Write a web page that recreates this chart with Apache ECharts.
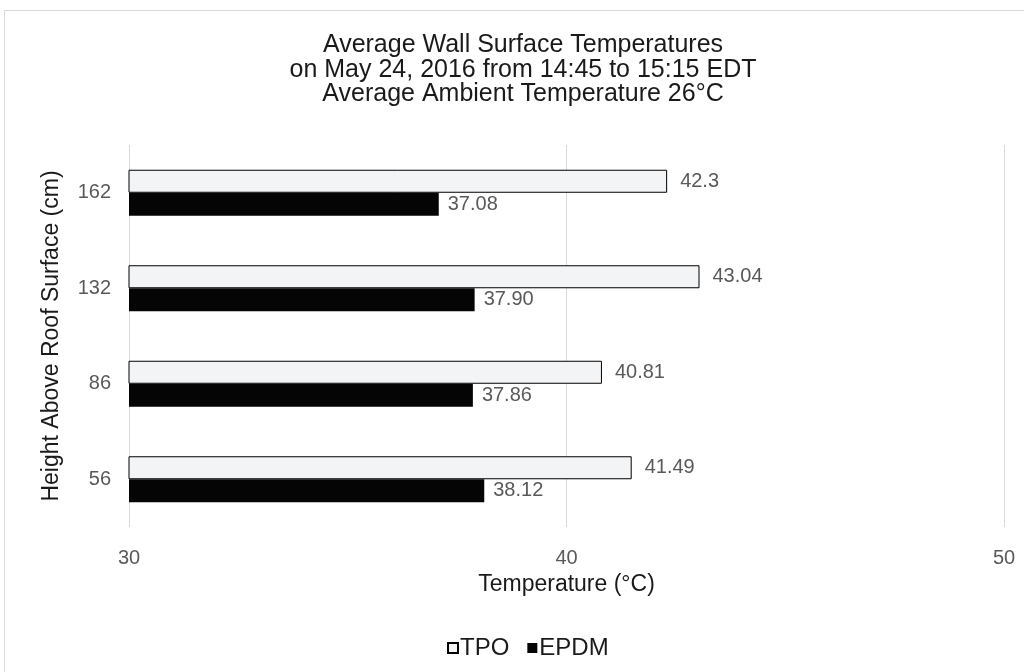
<!DOCTYPE html>
<html><head><meta charset="utf-8">
<script src="https://cdn.jsdelivr.net/npm/echarts@6/dist/echarts.min.js"></script>
<style>html,body{margin:0;padding:0;background:#fff}#c{width:1024px;height:672px}</style>
</head><body><div id="c"></div>
<script>
const categories = ['56', '86', '132', '162'];
const tpoValues = [41.49, 40.81, 43.04, 42.3];
const epdmValues = [38.12, 37.86, 37.90, 37.08];
const tpoLabels = ['41.49', '40.81', '43.04', '42.3'];
const epdmLabels = ['38.12', '37.86', '37.90', '37.08'];
const xTicks = [30, 40, 50];

const font = 'Liberation Sans, Arial, sans-serif';
const chart = echarts.init(document.getElementById('c'));
chart.setOption({
  animation: false,
  textStyle: { fontFamily: font },
  graphic: [{ type: 'rect', shape: { x: 4.5, y: 10.5, width: 1030, height: 680 }, style: { fill: 'none', stroke: '#d9d9d9', lineWidth: 1 }, silent: true }],
  title: {
    text: 'Average Wall Surface Temperatures\non May 24, 2016 from 14:45 to 15:15 EDT\nAverage Ambient Temperature 26°C',
    left: 518, top: 28, textAlign: 'center',
    textStyle: { fontFamily: font, fontSize: 25, fontWeight: 'normal', color: '#1a1a1a', lineHeight: 24.5 }
  },
  legend: {
    data: ['TPO', 'EPDM'], top: 631, left: 442, itemWidth: 10, itemHeight: 10, itemGap: 18,
    icon: 'rect',
    textStyle: { fontFamily: font, fontSize: 24, color: '#1a1a1a', padding: [0, 0, 0, -3] }
  },
  grid: { left: 129, right: 20, top: 145, bottom: 145, containLabel: false },
  xAxis: {
    type: 'value', min: xTicks[0], max: xTicks[xTicks.length - 1], interval: 10,
    name: 'Temperature (°C)', nameLocation: 'middle', nameGap: 44,
    nameTextStyle: { fontFamily: font, fontSize: 23, color: '#1a1a1a' },
    axisLine: { show: false }, axisTick: { show: false },
    axisLabel: { fontFamily: font, fontSize: 20, color: '#595959', margin: 21 },
    splitLine: { show: true, lineStyle: { color: '#d9d9d9', width: 1 } }
  },
  yAxis: {
    type: 'category', data: categories,
    name: 'Height Above Roof Surface (cm)', nameLocation: 'middle', nameGap: 66, nameRotate: 90,
    nameTextStyle: { fontFamily: font, fontSize: 23, color: '#1a1a1a' },
    axisLine: { show: false }, axisTick: { show: false },
    axisLabel: { fontFamily: font, fontSize: 20, color: '#595959', margin: 18 }
  },
  series: [
    {
      name: 'TPO', type: 'bar', data: tpoValues, barWidth: 23, barGap: '0%',
      itemStyle: { color: '#f3f4f5', borderColor: '#000', borderWidth: 1 },
      label: { show: true, position: 'right', distance: 13, fontFamily: font, fontSize: 20, color: '#595959',
        formatter: p => tpoLabels[p.dataIndex] }
    },
    {
      name: 'EPDM', type: 'bar', data: epdmValues, barWidth: 23, barGap: '0%',
      itemStyle: { color: '#050505' },
      label: { show: true, position: 'right', distance: 9, fontFamily: font, fontSize: 20, color: '#595959',
        formatter: p => epdmLabels[p.dataIndex] }
    }
  ]
});
</script></body></html>
